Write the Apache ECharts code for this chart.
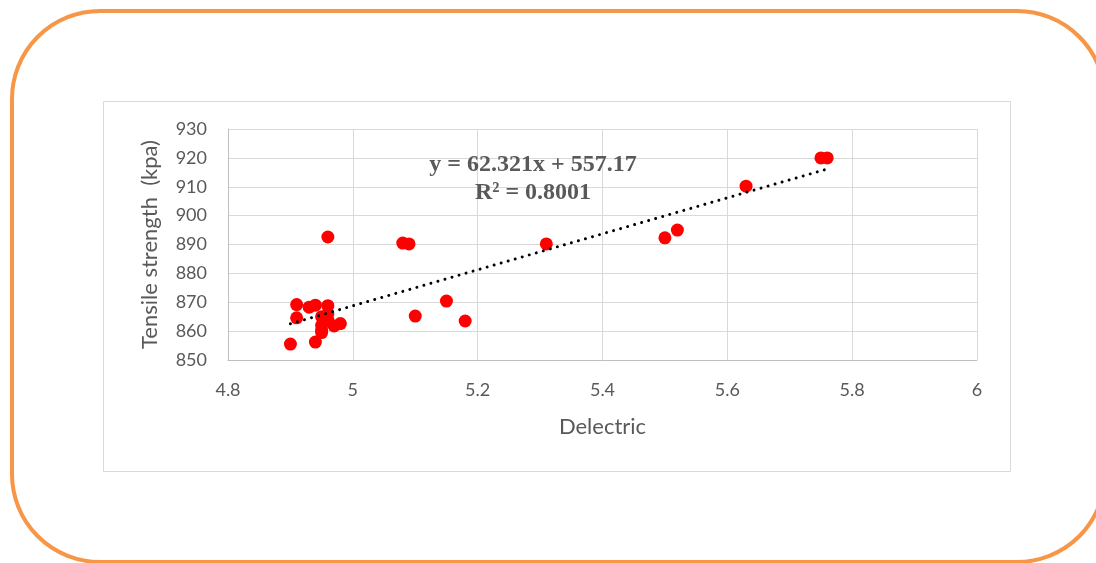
<!DOCTYPE html>
<html>
<head>
<meta charset="utf-8">
<script src="https://cdn.jsdelivr.net/npm/echarts@6/dist/echarts.min.js"></script>
<style>
html,body{margin:0;padding:0;background:#fff;}
#c{width:1096px;height:563px;}
</style>
</head>
<body>
<div id="c"></div>
<script>
// Data
const dielectric = [4.90, 4.91, 4.91, 4.93, 4.94, 4.94, 4.95, 4.95, 4.95, 4.95, 4.96, 4.96, 4.96, 4.96, 4.97, 4.98, 5.08, 5.09, 5.10, 5.15, 5.18, 5.31, 5.50, 5.52, 5.63, 5.75, 5.76];
const tensile    = [855.5, 869.2, 864.6, 868.3, 869.0, 856.2, 865.0, 862.0, 860.3, 859.5, 892.6, 868.8, 866.0, 863.8, 861.8, 862.6, 890.5, 890.2, 865.2, 870.4, 863.5, 890.2, 892.3, 895.0, 910.2, 920.0, 920.0];
const xTicks = [4.8, 5, 5.2, 5.4, 5.6, 5.8, 6];
const yTicks = [850, 860, 870, 880, 890, 900, 910, 920, 930];
const slope = 62.321;
const intercept = 557.17;
const rSquared = '0.8001';
const xTitle = 'Delectric';
const yTitle = 'Tensile strength  (kpa)';

const points = dielectric.map((x, i) => [x, tensile[i]]);
const xMin = Math.min(...dielectric), xMax = Math.max(...dielectric);
const trend = [[xMin, slope * xMin + intercept], [xMax, slope * xMax + intercept]];

const chart = echarts.init(document.getElementById('c'), null, {renderer: 'canvas'});
const labelFont = 'Lato, "Open Sans", sans-serif';
const eqFont = 'bold 24px "Liberation Serif", "Times New Roman", serif';
chart.setOption({
  animation: false,
  backgroundColor: '#ffffff',
  grid: {left: 228, top: 129, right: 119, bottom: 203, containLabel: false},
  graphic: [
    {type: 'rect', shape: {x: 12, y: 11, width: 1093, height: 551, r: 88}, style: {fill: 'none', stroke: '#F79646', lineWidth: 4}, z: 0},
    {type: 'rect', shape: {x: 103.5, y: 101.5, width: 907, height: 370}, style: {fill: 'none', stroke: '#d9d9d9', lineWidth: 1}, z: 0},
    {type: 'text', x: 533, y: 165, style: {text: 'y = ' + slope + 'x + ' + intercept, align: 'center', verticalAlign: 'middle', font: eqFont, fill: '#595959'}, z: 10},
    {type: 'text', x: 533, y: 193, style: {text: 'R² = ' + rSquared, align: 'center', verticalAlign: 'middle', font: eqFont, fill: '#595959'}, z: 10}
  ],
  xAxis: {
    type: 'value', min: xTicks[0], max: xTicks[xTicks.length - 1], interval: 0.2,
    name: xTitle, nameLocation: 'middle', nameGap: 56,
    nameTextStyle: {fontFamily: labelFont, fontSize: 22, color: '#595959'},
    axisLine: {show: true, onZero: false, lineStyle: {color: '#bfbfbf', width: 1}},
    axisTick: {show: false},
    splitLine: {show: true, lineStyle: {color: '#d9d9d9', width: 1}},
    axisLabel: {fontFamily: labelFont, fontSize: 18, color: '#595959', margin: 21,
      formatter: v => String(Math.round(v * 10) / 10)}
  },
  yAxis: {
    type: 'value', min: yTicks[0], max: yTicks[yTicks.length - 1], interval: 10,
    name: yTitle, nameLocation: 'middle', nameGap: 67,
    nameTextStyle: {fontFamily: labelFont, fontSize: 22, color: '#595959'},
    axisLine: {show: true, onZero: false, lineStyle: {color: '#bfbfbf', width: 1}},
    axisTick: {show: false},
    splitLine: {show: true, lineStyle: {color: '#d9d9d9', width: 1}},
    axisLabel: {fontFamily: labelFont, fontSize: 18, color: '#595959', margin: 21}
  },
  series: [
    {type: 'scatter', data: points, symbol: 'circle', symbolSize: 13,
      itemStyle: {color: '#FF0000', opacity: 1}, z: 2},
    {type: 'line', data: trend, symbol: 'none', silent: true, z: 3,
      lineStyle: {color: '#000000', width: 3, type: [0.01, 7.3], cap: 'round'}}
  ]
});
</script>
</body>
</html>
